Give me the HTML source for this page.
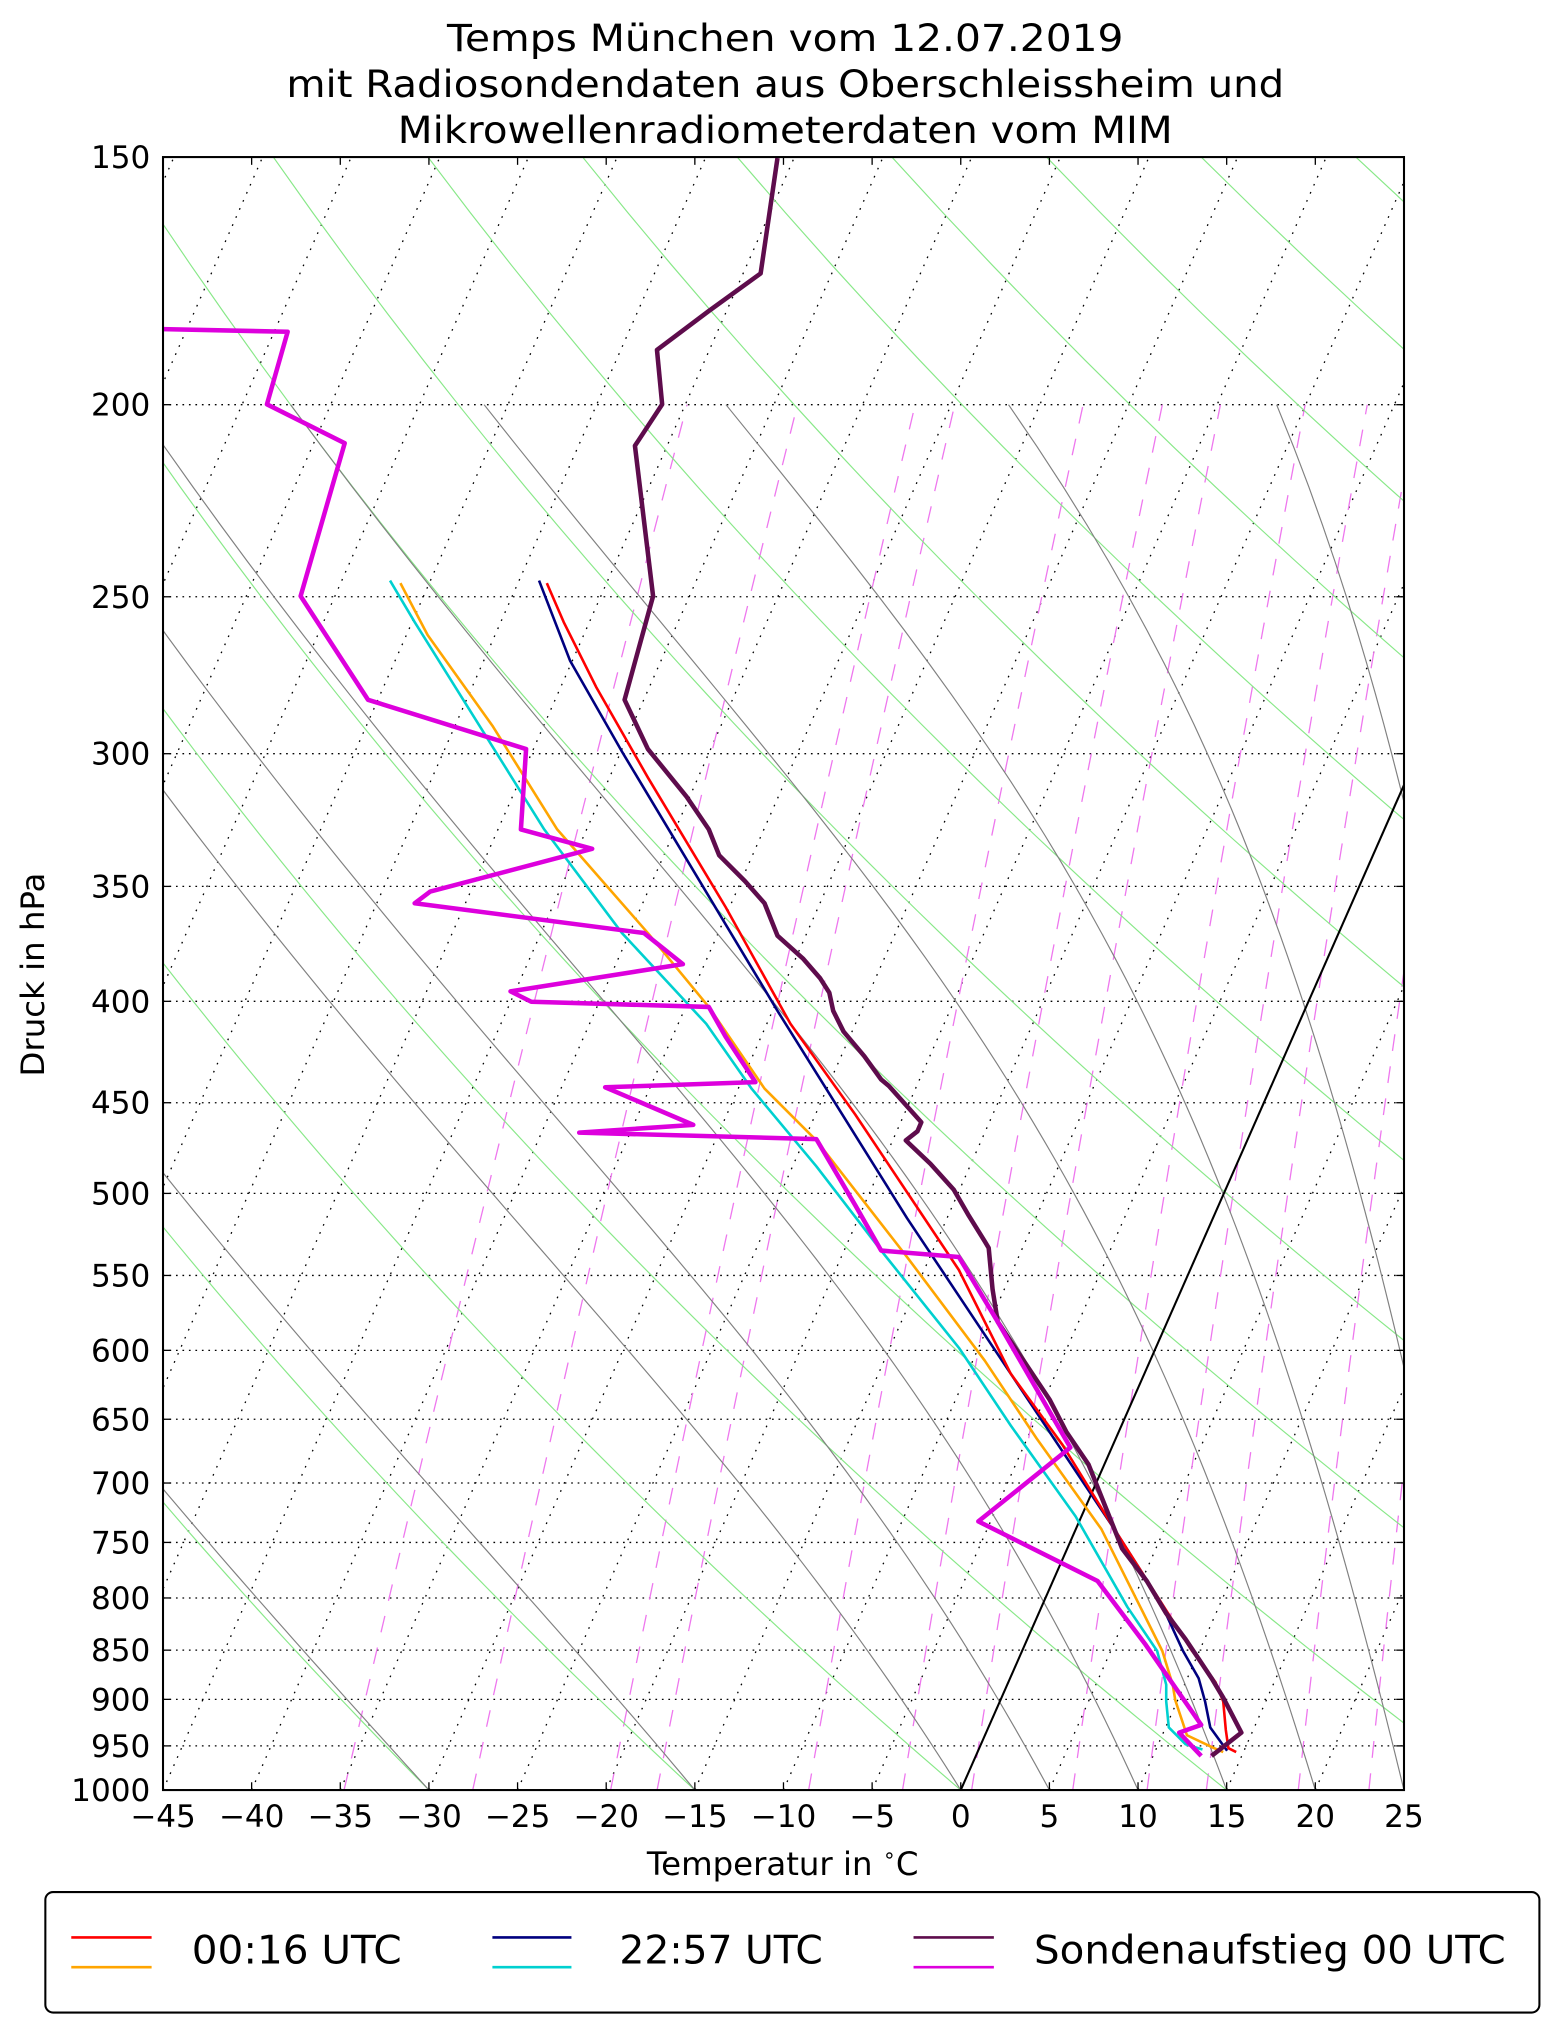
<!DOCTYPE html>
<html><head><meta charset="utf-8"><style>
html,body{margin:0;padding:0;background:#fff;}
svg{display:block;}
text{font-family:"DejaVu Sans","Liberation Sans",sans-serif;fill:#000;}
</style></head><body>
<svg id="s" xmlns="http://www.w3.org/2000/svg" width="1542" height="2032" viewBox="0 0 1190 1568" preserveAspectRatio="none">
<defs><clipPath id="c"><rect x="125.8" y="121.2" width="957.7" height="1260.1"/></clipPath></defs>
<rect width="1190" height="1568" fill="#fff"/>
<g id="bg" clip-path="url(#c)"></g>
<g id="data" clip-path="url(#c)" fill="none" stroke-linejoin="round">
<polyline stroke="#00d0d0" stroke-width="2" points="301,448 320,480 370,560 420,640 480,720 545,790 580,840 630,900 680,965 740,1040 780,1100 830,1170 870,1240 893,1274 900,1300 900,1313 902,1333 915,1346 928,1350"/>
<polyline stroke="#ffa500" stroke-width="2" points="309,450 330,490 380,560 430,640 500,720 547,777 590,840 630,880 700,970 760,1050 800,1110 850,1180 880,1240 897,1274 905,1300 907,1312 916,1339 937,1349 944,1352"/>
<polyline stroke="#00007f" stroke-width="2" points="416,448 440,510 480,580 540,680 600,780 650,860 700,940 740,1000 780,1060 820,1120 860,1180 895,1235 913,1274 925,1295 930,1313 934,1333 947,1351"/>
<polyline stroke="#ff0000" stroke-width="2" points="422,450 435,480 460,530 500,600 560,700 610,790 660,860 700,920 740,980 780,1060 820,1115 860,1180 897,1238 920,1274 938,1298 944,1313 946,1335 948,1349 954,1352"/>
<polyline stroke="#5e0c4c" stroke-width="3.5" points="600,122 587,211 547,240 507,270 511,312 490,344 504,460 482,540 500,578 530,615 547,640 555,660 575,680 590,697 600,722 620,740 633,755 640,766 643,780 651,796 667,815 680,833 686,838 711,866 708,873 699,880 718,898 736,918 747,937 760,958 763,963 766,995 770,1020 790,1050 810,1080 823,1105 840,1130 856,1170 866,1195 885,1220 900,1245 915,1265 925,1280 935,1295 944,1310 958,1337 935,1355"/>
<polyline stroke="#dd00dd" stroke-width="3.5" points="126,254 222,256 206,312 266,342 232,460 284,540 406,578 402,640 457,655 332,688 320,697 497,720 527,744 394,765 410,773 547,777 560,800 583,835 467,839 535,868 447,874 630,879 660,930 680,965 740,970 770,1020 826,1117 755,1174 817,1205 847,1220 884,1269 927,1331 910,1337 927,1355"/>
</g>
<g id="ax"></g>
<text x="606" y="39.4" font-size="29" text-anchor="middle" textLength="522" lengthAdjust="spacingAndGlyphs">Temps München vom 12.07.2019</text>
<text x="606" y="74.8" font-size="29" text-anchor="middle" textLength="770" lengthAdjust="spacingAndGlyphs">mit Radiosondendaten aus Oberschleissheim und</text>
<text x="606" y="110.3" font-size="29" text-anchor="middle" textLength="598" lengthAdjust="spacingAndGlyphs">Mikrowellenradiometerdaten vom MIM</text>
<text x="604" y="1447" font-size="25" text-anchor="middle">Temperatur in <tspan font-size="16" dy="-10">∘</tspan><tspan dy="10">C</tspan></text>
<text transform="translate(34,752) rotate(-90)" font-size="25" text-anchor="middle">Druck in hPa</text>
<rect x="35" y="1460" width="1153" height="93" rx="6" ry="6" fill="#fff" stroke="#000" stroke-width="1.6"/>
<line x1="55" y1="1495" x2="117" y2="1495" stroke="#ff0000" stroke-width="2"/>
<line x1="55" y1="1518" x2="117" y2="1518" stroke="#ffa500" stroke-width="2"/>
<line x1="380" y1="1495" x2="441" y2="1495" stroke="#00007f" stroke-width="2"/>
<line x1="380" y1="1518" x2="441" y2="1518" stroke="#00d0d0" stroke-width="2"/>
<line x1="705" y1="1495" x2="767" y2="1495" stroke="#5e0c4c" stroke-width="2"/>
<line x1="705" y1="1518" x2="767" y2="1518" stroke="#dd00dd" stroke-width="2"/>
<text x="148" y="1515" font-size="30" textLength="162" lengthAdjust="spacingAndGlyphs">00:16 UTC</text>
<text x="478" y="1515" font-size="30" textLength="157" lengthAdjust="spacingAndGlyphs">22:57 UTC</text>
<text x="798" y="1515" font-size="30" textLength="364" lengthAdjust="spacingAndGlyphs">Sondenaufstieg 00 UTC</text>
</svg>
<script>
(function(){
var X0=125.8,X1=1083.5,Y0=121.2,Y1=1381.3,K=13.681,SK=0.441,L=Math.log(1000/150);
function yP(p){return Y0+(Y1-Y0)*Math.log(p/150)/L;}
function xT(T,y){return X0+(T+45)*K+(Y1-y)*SK;}
var bg="",ax="";
function pl(pts,st){return '<polyline fill="none" points="'+pts.join(" ")+'" '+st+'/>';}
var ps=[150,200,250,300,350,400,450,500,550,600,650,700,750,800,850,900,950,1000];
ps.forEach(function(p){var y=yP(p).toFixed(2);
 bg+='<line x1="'+X0+'" x2="'+X1+'" y1="'+y+'" y2="'+y+'" stroke="#000" stroke-width="1" stroke-dasharray="1.3 3.7"/>';
 ax+='<line x1="'+X0+'" x2="'+(X0+6)+'" y1="'+y+'" y2="'+y+'" stroke="#000" stroke-width="1"/>';
 ax+='<line x1="'+(X1-6)+'" x2="'+X1+'" y1="'+y+'" y2="'+y+'" stroke="#000" stroke-width="1"/>';
 ax+='<text x="116" y="'+(yP(p)+8.5).toFixed(2)+'" font-size="24" text-anchor="end">'+p+'</text>';
});
for(var T=-100;T<=25;T+=5){
 bg+='<line x1="'+xT(T,Y1).toFixed(2)+'" y1="'+Y1+'" x2="'+xT(T,Y0).toFixed(2)+'" y2="'+Y0+'" stroke="#000" stroke-width="1" stroke-dasharray="1.3 5.5"/>';
}
[0.2,0.4,0.8,1,2,3,4,6,8,10,14,18].forEach(function(w){var pts=[];
 for(var p=1000;p>=200;p-=20){var e=w*p/(622+w),l=Math.log(e/6.112),Td=243.5*l/(17.67-l),y=yP(p);pts.push(xT(Td,y).toFixed(2)+","+y.toFixed(2));}
 bg+=pl(pts,'stroke="#ee77ee" stroke-width="1" stroke-dasharray="13 12"');
});
for(var th=183.15;th<=500;th+=15){var pts=[];
 for(var p=1000;p>=150;p-=10){var Tk=th*Math.pow(p/1000,0.2857)-273.15,y=yP(p);pts.push(xT(Tk,y).toFixed(2)+","+y.toFixed(2));}
 bg+=pl(pts,'stroke="#88e888" stroke-width="0.9"');
}
function dTdp(T,p){var Tc=T-273.15,es=6.112*Math.exp(17.67*Tc/(Tc+243.5)),rs=0.622*es/(p-es),Lv=2.501e6,Rd=287.04,cp=1005.7;
 return (Rd*T+Lv*rs)/(p*(cp+Lv*Lv*rs*0.622/(Rd*T*T)));}
[-45,-30,-15,0,5,10,15,20,25,30,35].forEach(function(T0){var T=T0+273.15,pts=[],p=1000,dp=-2;
 pts.push(xT(T0,Y1).toFixed(2)+","+Y1);
 while(p>200){var k1=dTdp(T,p),k2=dTdp(T+k1*dp/2,p+dp/2);T+=k2*dp;p+=dp;
  if(Math.round(p)%10==0){var y=yP(p);pts.push(xT(T-273.15,y).toFixed(2)+","+y.toFixed(2));}}
 bg+=pl(pts,'stroke="#808080" stroke-width="0.9"');
});
bg+='<line x1="'+xT(0,Y1)+'" y1="'+Y1+'" x2="'+xT(0,Y0)+'" y2="'+Y0+'" stroke="#000" stroke-width="1.6"/>';
document.getElementById("bg").innerHTML=bg;
for(var T=-45;T<=25;T+=5){var x=(X0+(T+45)*K).toFixed(2);
 ax+='<line x1="'+x+'" x2="'+x+'" y1="'+Y1+'" y2="'+(Y1-6)+'" stroke="#000" stroke-width="1"/>';
 ax+='<line x1="'+x+'" x2="'+x+'" y1="'+Y0+'" y2="'+(Y0+6)+'" stroke="#000" stroke-width="1"/>';
 ax+='<text x="'+x+'" y="1410" font-size="24" text-anchor="middle">'+(T<0?"\u2212"+(-T):T)+'</text>';
}
ax+='<rect x="'+X0+'" y="'+Y0+'" width="'+(X1-X0)+'" height="'+(Y1-Y0)+'" fill="none" stroke="#000" stroke-width="1.6"/>';
document.getElementById("ax").innerHTML=ax;
})();
</script>
</body></html>
